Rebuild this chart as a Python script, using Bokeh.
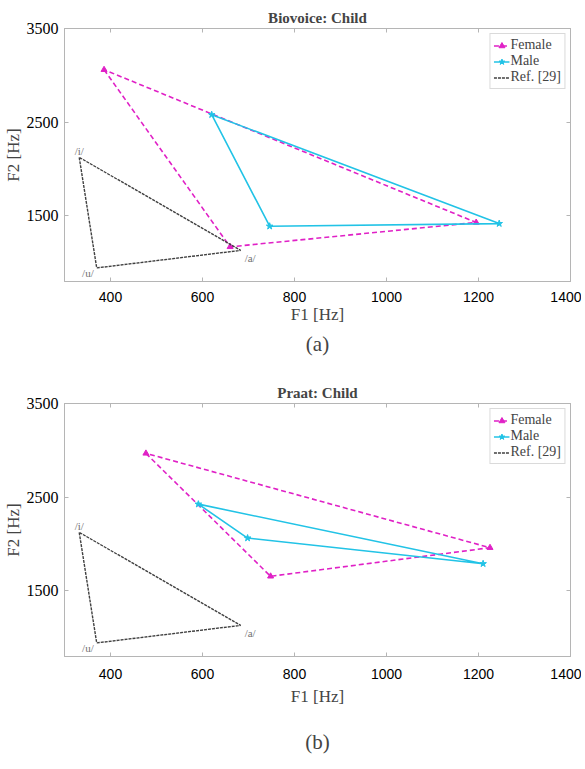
from bokeh.plotting import figure
from bokeh.models import FixedTicker, LinearAxis, Title, Range1d
from bokeh.layouts import column
from bokeh.core.properties import value
from bokeh.embed import file_html
from bokeh.resources import INLINE

# ---- data ----
vowel_labels = ["/i/", "/u/", "/a/"]
ref_f1 = [332, 370, 683]
ref_f2 = [2125, 945, 1132]

bio_female_f1 = [386, 660, 1195]
bio_female_f2 = [3060, 1170, 1430]
bio_male_f1 = [620, 746, 1245]
bio_male_f2 = [2580, 1390, 1418]

praat_female_f1 = [477, 748, 1225]
praat_female_f2 = [2968, 1656, 1961]
praat_male_f1 = [591, 698, 1210]
praat_male_f2 = [2426, 2064, 1790]

x_ticks = [400, 600, 800, 1000, 1200, 1400]
y_ticks = [1500, 2500, 3500]

FEM = "#E021C6"
MALE = "#22C3E6"
REF = "#404040"
GRAY = "#b5b5b5"
SERIF = "Liberation Serif"


def closed(seq):
    return list(seq) + [seq[0]]


def panel(title, caption, fx, fy, mx, my, top, bottom, tick_sd, lab_sd, cap_sd):
    p = figure(frame_width=506, frame_height=253,
               x_range=Range1d(300, 1400), y_range=Range1d(800, 3500),
               output_backend="svg", toolbar_location=None,
               min_border_left=60, min_border_right=11,
               min_border_top=top, min_border_bottom=bottom,
               background_fill_color="white", border_fill_color="white")
    p.title.text = title
    p.title.align = "center"
    p.title.text_font = SERIF
    p.title.text_font_size = "15px"
    p.title.text_font_style = "bold"
    p.title.standoff = 5
    p.grid.visible = False
    p.outline_line_color = GRAY

    # main axes
    xa = p.xaxis[0]
    xa.ticker = FixedTicker(ticks=x_ticks)
    xa.axis_label = "F1 [Hz]"
    ya = p.yaxis[0]
    ya.ticker = FixedTicker(ticks=y_ticks)
    ya.axis_label = "F2 [Hz]"
    for ax in (xa, ya):
        ax.axis_line_color = GRAY
        ax.major_tick_line_color = GRAY
        ax.major_tick_in = 4
        ax.major_tick_out = 0
        ax.minor_tick_line_color = None
        ax.axis_label_text_font = SERIF
        ax.axis_label_text_font_style = "normal"
        ax.axis_label_text_font_size = "17px"
        ax.major_label_text_color = "black"
    xa.major_label_text_font = "Liberation Sans"
    xa.major_label_text_font_size = "14px"
    xa.major_label_standoff = tick_sd
    xa.axis_label_standoff = lab_sd
    ya.major_label_text_font = SERIF
    ya.major_label_text_font_size = "16px"
    ya.major_label_standoff = 6
    ya.axis_label_standoff = 1
    ya.axis_label_text_font_size = "17px"

    # box ticks on top/right (no labels)
    top_ax = LinearAxis(ticker=FixedTicker(ticks=x_ticks))
    right_ax = LinearAxis(ticker=FixedTicker(ticks=y_ticks))
    for ax in (top_ax, right_ax):
        ax.axis_line_color = GRAY
        ax.major_tick_line_color = GRAY
        ax.major_tick_in = 4
        ax.major_tick_out = 0
        ax.minor_tick_line_color = None
        ax.major_label_text_color = None
        ax.major_label_text_font_size = "1px"
        ax.major_label_standoff = 0
    p.add_layout(top_ax, "above")
    p.add_layout(right_ax, "right")

    # caption
    p.add_layout(Title(text=caption, align="center", text_font=SERIF,
                       text_font_size="21px", text_font_style="normal",
                       standoff=cap_sd), "below")

    # series
    p.line(closed(fx), closed(fy), line_color=FEM, line_width=1.6,
           line_dash="5 3", legend_label="Female")
    p.scatter(fx, fy, marker="triangle", size=6, color=FEM, legend_label="Female")
    p.line(closed(mx), closed(my), line_color=MALE, line_width=1.6,
           legend_label="Male")
    p.scatter(mx, my, marker="star", size=7, color=MALE, legend_label="Male")
    p.line(closed(ref_f1), closed(ref_f2), line_color=REF, line_width=1.4,
           line_dash="3 1", legend_label="Ref. [29]")

    # vowel labels
    aligns = ["center", "right", "left"]
    xoffs = [0, -3, 4]
    yoffs = [-6, 5, 8]
    for i in range(3):
        p.text([ref_f1[i]], [ref_f2[i]], text=[vowel_labels[i]],
               text_font=value(SERIF), text_font_size="11px",
               text_color="#707070", text_align=aligns[i],
               text_baseline="middle", x_offset=xoffs[i], y_offset=yoffs[i])

    lg = p.legend[0]
    lg.location = "top_right"
    lg.margin = 5
    lg.padding = 3
    lg.spacing = 0
    lg.label_height = 15
    lg.glyph_height = 15
    lg.glyph_width = 16
    lg.label_standoff = 1
    lg.label_text_font = SERIF
    lg.label_text_font_size = "14px"
    lg.border_line_color = GRAY
    lg.background_fill_alpha = 1
    return p


pa = panel("Biovoice: Child", "(a)", bio_female_f1, bio_female_f2,
           bio_male_f1, bio_male_f2, 28, 99, 10, 0, 6)
pb = panel("Praat: Child", "(b)", praat_female_f1, praat_female_f2,
           praat_male_f1, praat_male_f2, 21, 115, 12, 5, 39)

layout = column(pa, pb, spacing=0)
open("out.html", "w").write(file_html(layout, INLINE))
